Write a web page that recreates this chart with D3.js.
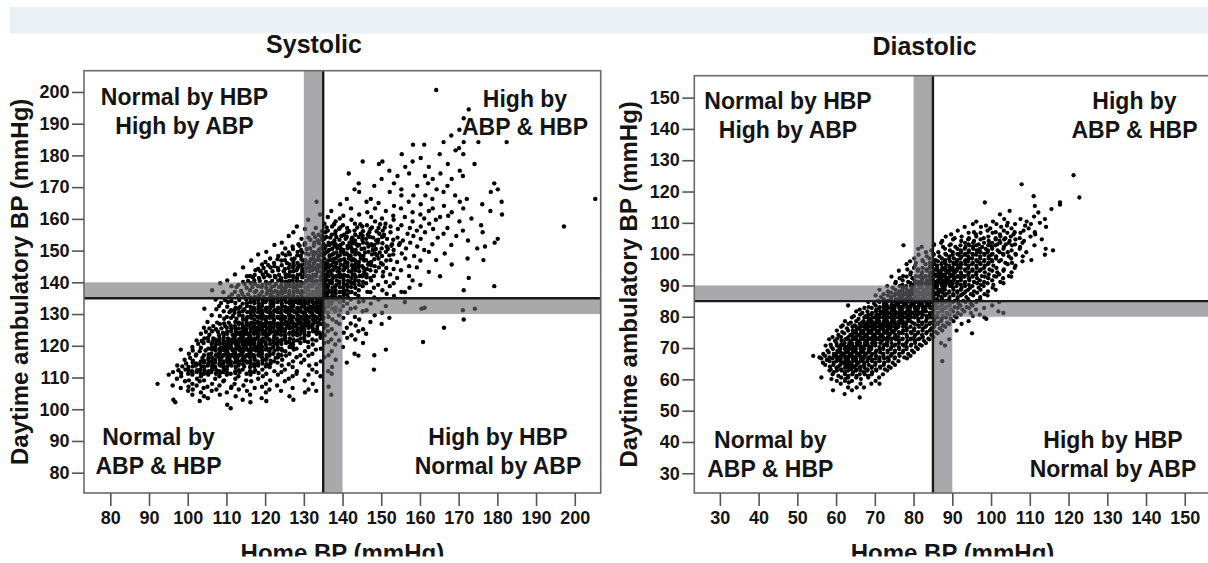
<!DOCTYPE html>
<html><head><meta charset="utf-8">
<script src="https://cdn.jsdelivr.net/npm/d3@7"></script>
<style>
body{margin:0;background:#fff}
svg{display:block}
text{font-family:"Liberation Sans",Arial,Helvetica,sans-serif;font-weight:bold;fill:#141414}
</style>
</head><body><svg id="chart" width="1208" height="563"></svg>
<script>
// ---------------- data ----------------
const panelTitles = ["Systolic", "Diastolic"];
const xAxisTitle = "Home BP (mmHg)";
const yAxisTitle = "Daytime ambulatory BP (mmHg)";
const sysTicks = [80, 90, 100, 110, 120, 130, 140, 150, 160, 170, 180, 190, 200];
const diaTicks = [30, 40, 50, 60, 70, 80, 90, 100, 110, 120, 130, 140, 150];
const sysThreshold = 135, diaThreshold = 85, greyZone = 5;
const quadrantLabels = [["Normal by HBP", "High by ABP"], ["High by", "ABP & HBP"], ["Normal by", "ABP & HBP"], ["High by HBP", "Normal by ABP"]];

// rows: [daytime ABP, home BP values of the subjects with that ABP ...]
const sysRows = [
[200.6,164.2],[194.5,172.6],[191.7,171.3],[188.1,170.2],[186.3,168.1],[184.2,166.1,171.3,175.1,182.4],[183.4,158.2,161.1],
[182.3,170.1],[181.6,169.2],[180.4,155.3,165.1,171.2],[179.2,160.2],[178.1,145.2,150.3,158.1],[177.3,149.4,167.2,174.1],
[176.4,156.2,162.3],[175.2,152.1,170.3],[174.3,141.6,157.2,165.3],[173.5,154.2,161.3,171.1],[172.6,150.1,163.3,168.2],
[171.2,144.2,153.3,162.1,179.2],[170.4,148.2,159.3,167.1],[169.3,143.1,155.2,164.3,180.1],[168.5,144.3,152.2,166.1,178.3],
[167.4,155.2,158.3,161.4,169.1],[166.3,141.1,147.3,163.2,172.1,205.3],[165.4,133.3,146.2,157.1,170.3,181.1],[165.0,149.3],
[164.6,139.4,160.2,176.1],[164.1,153.3,166.2],[163.3,142.2,148.4,155.1,163.3,171.2],[162.5,137.1,151.2,162.3,178.2],
[162.1,146.4,158.1,168.2],[161.4,134.2,144.3,160.1,181.2],[161.0,140.2,153.1,167.3],
[160.6,136.2,147.4,156.1,165.2],[160.1,139.3,150.2,161.1,173.3],
[159.7,131.1,142.3,153.2,164.1],[159.2,138.2,148.4,158.1,170.2],
[158.5,135.3,143.2,151.1,162.4],[158.0,140.1,146.3,155.2,175.8],
[157.6,128.2,137.3,145.1,152.4,160.2,197.2],[157.1,133.1,141.2,149.3,157.4,167.1],
[156.8,130.3,139.1,147.2,154.3,163.4],[156.3,136.2,143.1,150.4,159.2,171.1],
[155.8,127.3,135.6,141.2,146.9,152.4,161.3,176.2],[155.3,132.4,138.1,144.7,149.5,156.8,166.1],
[154.6,126.1,134.4,139.7,145.2,150.6,158.3,169.4],[154.1,131.2,136.8,142.5,147.9,154.2,164.6],
[153.7,129.4,135.3,140.8,146.1,151.5,160.2,180.1],[153.2,133.6,137.9,143.2,148.7,155.6,172.4],
[152.5,124.3,132.7,136.4,141.8,145.3,149.1,157.5,179.3],[152.0,128.6,135.1,138.2,143.6,147.4,152.8,163.2],
[151.8,122.4,130.2,136.6,139.5,144.3,148.2,154.6,168.1],[151.3,127.1,134.8,137.9,142.1,146.7,151.4,159.3,176.8],
[150.7,125.2,131.6,135.4,138.7,141.3,145.6,150.1,156.4,174.8],[150.2,129.3,133.9,136.5,140.2,143.4,147.8,153.2,161.1],
[149.6,120.3,128.4,132.2,136.1,139.6,142.5,146.7,151.2,162.3],[149.1,124.5,130.6,134.3,137.7,141.1,144.2,148.4,155.3,166.4],
[148.8,118.2,126.4,131.3,135.2,137.4,140.5,143.3,147.6,153.1],[148.3,123.4,129.2,133.7,136.6,138.8,142.1,145.4,150.2,158.5],
[147.5,121.3,127.6,132.4,135.3,138.2,141.6,144.7,149.3,156.2,172.3],[147.0,125.1,130.4,134.1,136.8,139.5,143.2,146.1,152.4,164.2,176.4],
[146.9,116.4,124.2,129.7,133.1,136.3,139.2,142.4,145.6,151.3,160.1],[146.4,120.1,127.3,131.5,134.8,137.6,140.7,144.2,147.4,154.1],
[145.6,119.2,126.3,130.1,134.4,136.2,139.5,143.3,146.6,150.4,168.2],[145.1,122.4,128.6,132.3,135.7,138.1,141.2,145.1,148.3,157.2],
[144.7,114.3,121.4,127.2,131.5,134.2,136.4,138.3,141.2,144.1,149.4,159.2],[144.2,118.2,125.1,129.6,133.3,135.6,137.7,140.4,142.6,146.3,153.2],
[143.8,117.5,123.4,128.1,132.2,135.1,137.5,140.2,143.3,147.2,155.1],[143.3,120.2,126.4,130.3,134.5,136.2,139.1,142.3,145.6,150.5,162.3],
[142.5,112.2,119.4,125.3,129.1,133.2,135.4,137.2,139.4,143.1,146.2,152.3],[142.0,116.1,122.5,127.2,131.3,134.6,136.3,138.5,141.2,144.4,148.1,157.2],
[141.9,115.3,121.2,126.3,130.4,133.1,136.2,138.3,141.4,145.1,150.4,165.2],[141.4,118.4,124.1,128.3,132.2,135.4,137.4,140.2,142.3,147.2,154.1,172.6],
[140.6,110.2,117.2,123.4,127.1,131.4,134.3,136.1,138.5,140.3,143.2,147.4,158.1],[140.1,114.3,120.2,125.3,129.2,132.3,135.4,137.3,139.2,142.1,145.3,151.2],
[139.7,108.4,116.3,121.2,126.2,130.1,133.4,135.3,137.2,139.1,142.4,146.1,153.2],[139.2,113.1,119.3,124.2,128.3,131.3,134.2,136.3,138.4,141.2,144.3,149.2,160.1],
[138.8,111.3,118.2,122.3,126.4,129.2,132.1,134.3,136.2,138.1,141.3,145.2,152.2,179.2],[138.3,115.2,120.3,124.4,127.3,130.4,133.3,135.4,137.4,140.2,143.3,148.1,157.3],
[137.5,106.3,116.1,121.4,125.2,128.3,131.2,134.1,136.3,138.2,141.2,144.2,150.3,171.3],[137.0,112.2,119.2,123.3,127.4,130.2,132.4,135.3,137.1,139.4,142.3,146.4,155.2],
[136.9,109.2,117.3,122.2,125.1,128.4,130.2,133.3,135.2,137.4,139.3,142.1,147.2,156.1],[136.4,114.1,120.4,124.3,126.2,129.3,132.1,134.4,136.1,138.2,140.4,143.3,151.4],
[135.7,113.1,118.3,123.2,126.1,129.4,131.2,133.1,135.4,137.3,140.2,144.1,153.3],[135.2,116.2,121.3,124.4,127.2,130.3,132.4,134.2,136.3,138.1,141.4,148.2],
[134.6,107.2,115.1,119.3,122.2,125.1,128.3,130.2,132.1,134.3,136.2,138.4,142.1,149.3],[134.1,111.3,117.2,121.4,123.3,126.4,129.2,131.3,133.4,135.1,137.3,140.2,145.4],
[133.8,110.4,116.2,120.1,123.2,125.4,128.1,130.3,132.2,134.1,136.4,139.3,144.2,156.1],[133.3,114.2,118.3,121.4,124.3,127.2,129.4,131.1,133.3,135.2,137.1,141.2,147.3],
[132.5,108.1,115.3,119.2,122.1,124.4,127.3,130.1,132.4,134.2,136.3,140.1,151.2],[132.0,112.4,117.1,120.3,123.4,126.2,128.4,131.2,133.1,135.4,138.2,143.3,161.2],
[131.7,104.3,113.1,118.4,121.3,123.2,126.1,128.3,130.4,132.2,134.1,137.3,142.1,160.4,174.2],[131.2,111.2,116.3,119.1,122.4,125.3,127.2,129.1,131.3,133.4,135.2,139.4,146.2,171.1],
[130.9,109.3,114.2,117.1,120.3,122.4,125.2,127.3,129.1,131.4,133.2,135.3,138.1,145.2],[130.4,112.1,116.3,119.2,121.4,124.1,126.3,128.2,130.3,132.1,134.4,136.2,141.3,150.2],
[129.6,106.2,113.3,117.2,119.4,122.1,124.3,126.2,128.4,130.1,132.3,134.2,139.1,148.3],[129.1,110.1,115.4,118.1,120.3,123.2,125.1,127.3,129.2,131.4,133.1,136.4,143.2],
[128.8,111.2,116.4,118.3,121.1,123.4,125.2,127.1,129.3,131.2,133.4,135.1,140.2,152.1],[128.3,114.3,117.2,120.1,122.3,124.1,126.4,128.2,130.1,132.3,134.2,137.4,144.3,171.3],
[127.5,105.1,112.3,115.2,118.1,120.3,122.2,125.4,127.1,129.2,131.3,133.1,138.4,147.2],[127.0,109.4,114.1,117.3,119.2,121.4,123.3,126.1,128.3,130.2,132.4,135.2,142.1],
[126.9,108.3,113.2,116.1,118.4,120.2,122.3,125.1,127.4,129.2,131.1,134.3,139.2,150.1],[126.4,111.1,115.3,117.2,119.1,121.3,124.2,126.3,128.1,130.4,132.2,136.1,143.4],
[125.7,104.2,110.1,114.3,116.2,118.1,120.4,122.2,124.3,127.1,129.4,131.2,135.3,141.1,166.2],[125.2,107.3,112.4,115.1,117.3,119.2,121.1,123.4,125.2,128.3,130.1,133.4,137.2,145.3],
[124.6,106.3,111.2,114.1,116.3,118.2,120.1,122.4,124.2,127.3,130.1,132.4,136.2,144.1],[124.1,109.1,113.4,115.2,117.1,119.3,121.2,123.1,126.4,128.2,131.3,134.1,140.3],
[123.8,103.4,110.2,113.1,115.3,117.2,119.4,121.1,123.3,126.2,129.1,133.3,138.2,146.1],[123.3,108.1,112.3,114.4,116.1,118.3,120.2,122.4,125.1,128.3,131.2,135.4,142.3],
[122.5,105.2,109.3,112.1,114.2,116.3,118.1,120.4,122.3,125.2,130.1,134.3,141.2],[122.0,107.1,111.4,113.2,115.1,117.4,119.2,121.1,124.4,127.3,132.2,137.1,143.3],
[121.7,102.3,108.2,111.1,113.4,115.2,117.1,119.3,121.2,124.1,128.4,133.2,139.1],[121.2,106.4,110.3,112.2,114.1,116.3,118.4,120.1,123.3,126.2,131.1,136.3,160.8],
[120.9,104.1,109.2,111.3,113.1,115.4,117.2,119.1,122.3,125.4,129.1,135.2,145.3],[120.4,107.3,110.1,112.4,114.2,116.1,118.3,120.2,123.1,127.2,132.3,138.1],
[119.6,101.2,107.1,109.4,111.2,113.3,115.1,117.4,119.2,122.1,126.3,131.2,140.1],[119.1,105.3,108.2,110.1,112.3,114.2,116.4,118.1,121.3,124.2,128.1,134.4],
[118.8,98.2,106.3,109.1,111.4,113.2,115.3,117.1,120.2,123.3,127.4,133.1,151.2],[118.3,103.1,108.4,110.2,112.1,114.3,116.2,118.4,121.1,125.2,130.3,137.2],
[117.5,100.3,106.1,108.2,110.4,112.3,114.1,116.3,119.2,122.1,126.3,132.2,143.1],[117.0,104.2,107.3,109.1,111.2,113.4,115.2,117.1,120.4,124.2,129.1,136.4,148.2],
[116.9,102.1,107.3,109.2,111.4,113.1,115.2,118.3,121.1,125.4,131.2,144.1],[116.4,105.4,108.1,110.3,112.2,114.4,116.1,119.2,123.3,128.1,135.3],
[115.6,99.2,105.3,107.1,110.2,112.4,114.1,117.3,120.2,124.4,130.1,138.2],[115.1,103.4,106.2,109.3,111.1,113.3,115.2,118.1,122.3,127.2,134.4],
[114.7,101.3,104.2,107.1,110.3,112.2,115.4,118.1,123.2,129.3,141.1],[114.2,103.1,106.4,108.2,111.1,114.3,117.2,120.4,126.1,133.2],
[113.8,97.3,102.1,105.2,108.4,111.3,113.1,118.2,124.3,131.4],[113.3,100.2,104.3,107.1,109.2,112.4,116.1,121.2,127.1,137.3],
[112.5,99.4,103.2,106.3,110.1,114.2,119.3,125.1,132.2,148.1],[112.0,101.1,105.4,108.2,112.3,116.1,122.4,128.2,136.3],
[111.7,96.2,102.3,106.1,109.2,113.4,117.1,124.2,133.3],[111.2,100.1,104.2,107.3,111.1,115.2,120.3,128.1,137.2],
[110.9,95.1,101.2,105.3,110.1,116.2,123.3,131.2],[110.4,98.3,103.4,108.2,113.1,119.4,127.1,134.3],
[109.6,97.2,102.4,107.1,112.3,118.2,126.1],[109.1,100.3,104.2,109.4,115.1,121.3,130.2],
[108.8,99.3,103.1,109.2,116.4,125.1],[108.0,92.2,101.2,106.3,112.1,120.2,132.3],
[107.5,96.1,102.3,108.2,114.4,123.1],[107.1,100.2,105.1,111.3,119.2,136.4],
[106.7,98.2,104.1,111.2,117.3,127.1],[106.2,101.3,107.4,113.2,121.1,131.2],
[105.8,100.1,106.2,115.3,124.1,133.2],[105.3,103.4,110.1,120.2,130.3],
[104.6,101.2,108.3,116.1,137.1],[104.1,104.2,112.4,126.3],
[103.5,105.2,119.1],[103.0,96.3,114.2,127.3],[102.6,103.1,120.3],[102.2,96.8,116.2],[101.4,110.2],[100.3,111.1],
// denser core of the cloud
[158.3,137.8,144.6,149.7],[157.3,135.9,139.4,143.8,147.6,150.9],[156.1,134.7,138.2,141.7,145.3,148.8],
[155.0,133.8,137.2,140.4,143.3,146.5,150.7],[154.3,132.9,135.8,138.4,141.1,144.2,147.1,150.2],
[153.4,131.7,134.6,139.2,142.3,145.1,149.2,153.1],[152.3,130.3,133.9,137.3,140.1,142.7,146.3,150.3,154.8],
[151.5,128.9,132.6,135.7,138.8,141.3,143.9,147.8,152.6],[150.5,127.2,130.8,134.2,137.3,139.6,142.4,144.9,148.6,151.7],
[149.4,126.1,129.6,133.1,135.6,138.4,140.3,143.4,145.8,149.6],[148.5,125.3,128.3,132.5,134.6,136.9,139.3,141.6,144.6,148.9,152.1],
[147.3,123.2,126.9,129.4,131.8,133.7,137.6,140.4,142.8,145.4,148.2],[146.1,122.3,125.6,128.4,130.8,132.6,135.5,138.4,141.3,143.5,146.8,149.9],
[145.4,120.8,124.3,127.4,129.3,131.4,133.6,137.1,140.3,142.4,144.2,147.4],[144.5,119.6,123.3,126.1,128.4,130.6,132.8,135.1,139.2,143.2,145.4,151.3],
[143.5,118.8,121.9,124.8,127.3,129.6,131.4,133.6,136.8,138.7,141.6,144.3,148.6],[142.3,117.3,120.7,123.6,126.1,128.4,130.2,132.4,136.1,140.4,142.6,145.3],
[141.6,116.8,119.7,122.6,125.3,127.4,129.6,131.3,134.3,137.6,139.4,143.4,146.2],[140.4,115.6,118.6,121.8,124.3,126.2,128.2,130.6,133.2,136.7,141.4,144.2],
[139.5,114.7,117.4,120.4,122.8,125.4,127.3,129.4,132.4,134.6,140.3,143.1],[138.5,112.6,116.7,119.1,121.6,123.6,125.4,128.1,131.2,135.7,139.3,142.2],
[137.3,113.8,117.7,120.6,122.7,124.3,126.3,129.4,133.3,136.6,140.3],[136.2,111.4,115.6,118.7,121.4,123.3,127.3,131.1,134.2,141.2],
[135.4,110.7,114.6,117.3,119.6,122.1,125.3,128.3,131.1,133.7,139.2],[134.4,109.6,113.3,116.3,118.2,120.4,124.3,127.3,129.1,131.6,133.3],
[133.5,108.6,112.3,115.3,117.2,119.3,122.2,126.3,128.6,130.7,132.6,134.4],[132.3,110.2,113.6,116.2,118.3,121.3,125.2,126.8,129.4,131.7,133.6],
[131.5,107.4,112.2,114.6,117.3,120.1,124.2,126.6,128.8,130.6,132.7,134.6],[130.6,110.8,113.3,115.4,118.2,120.9,123.3,125.7,127.7,129.6,131.7,133.6],
[129.4,108.3,111.7,114.2,116.3,118.8,121.3,124.2,126.7,128.6,130.7,132.6,134.7],[128.5,109.4,112.6,115.2,119.2,122.1,124.7,126.3,128.6,130.6,132.8],
[127.3,107.6,110.6,113.2,116.4,118.6,121.2,124.3,126.7,128.7,130.6,133.7],[126.2,106.6,109.7,112.2,114.3,117.1,119.7,123.2,125.6,127.6,129.6,131.7,133.5],
[125.5,105.6,108.7,111.3,113.2,116.3,118.7,121.3,123.6,126.3,128.8,132.3],[124.4,104.7,107.8,110.2,112.4,114.7,117.6,119.4,121.6,125.1,129.3,133.2],
[123.5,105.6,109.3,111.6,113.7,115.8,118.2,120.7,124.1,127.2,130.2,134.3],[122.3,104.3,106.6,108.2,110.4,113.6,115.7,117.3,119.4,123.1,126.4,129.2],
[121.5,103.6,105.3,107.4,109.3,112.6,114.6,116.2,118.6,122.2,125.3,127.4,130.2],[120.6,102.7,106.2,108.3,110.7,112.6,114.7,116.7,118.7,121.3,124.2,126.6],
[119.4,103.4,106.2,108.7,110.6,112.7,114.6,116.3,118.4,120.3,123.3,127.2],[118.5,101.3,104.6,107.2,109.6,111.7,113.6,115.8,117.6,119.2,122.4,124.4],
[117.3,102.2,105.4,107.7,109.7,111.7,113.6,115.7,118.3,121.2,123.4],[116.2,100.6,103.8,106.3,108.7,110.8,112.8,114.7,117.2,120.4,122.7],
[115.3,101.3,104.2,108.3,110.8,112.7,114.3,116.2,119.3,121.4],[114.4,99.6,102.2,105.3,109.2,113.2,116.3,119.3,121.4],
[113.5,98.6,101.3,103.6,106.3,110.2,114.6,117.2,120.2],[112.3,97.6,100.2,102.4,104.3,107.4,109.3,113.2,117.4],
[111.4,98.3,101.2,103.3,105.2,108.3,110.2,112.3,118.3]
];

const diaRows = [
[125.2,121.3],[122.3,107.9],[118.5,111.0],[118.1,122.8],[116.5,98.4,117.8],[115.8,117.8],[115.4,111.3],[114.4,115.6],
[113.8,104.8],[113.3,112.2],[112.7,102.3],[112.0,111.1],[111.2,103.4,107.6,113.9],[110.4,96.2,100.5,109.2],[110.0,104.3,112.6],
[109.6,95.3,101.4,106.2,110.3],[109.1,98.7,104.1,108.8],
[108.7,93.2,97.4,102.6,114.2],[108.2,99.8,105.3,109.7],
[107.5,91.4,99.1,103.3,108.4],[107.0,95.6,101.2,106.1,111.3],
[106.8,94.2,97.3,100.4,104.2,107.6],[106.3,89.7,96.1,102.3,105.8,111.4],
[105.6,88.3,92.4,96.2,99.3,102.4,105.1,110.2],[105.1,90.6,94.3,98.1,101.2,103.7,107.4],
[104.7,90.2,94.1,97.3,101.2,103.4,106.3,113.1],[104.2,87.4,92.3,95.6,99.4,102.2,104.8,108.5],
[103.6,87.1,93.3,95.4,98.2,100.3,102.4,104.6,108.1],[103.1,85.3,89.6,94.2,96.8,99.5,101.6,103.8,106.2],
[102.8,77.4,85.2,89.3,92.1,94.4,96.2,99.3,101.1,105.4,111.2],[102.3,82.1,87.6,90.8,93.4,95.3,97.7,100.2,103.3,107.5],
[101.7,81.2,88.1,91.3,93.2,95.4,97.1,98.6,100.3,103.2,107.4,114.1],[101.2,84.6,89.4,92.2,94.3,96.3,99.2,101.7,105.3,116.0],
[100.6,83.2,86.4,90.1,92.3,94.2,96.4,97.3,99.1,102.2,104.3,109.1],[100.1,85.1,88.2,91.3,93.4,95.2,98.3,100.4,103.1,106.3],
[99.8,81.3,85.2,88.4,90.1,91.6,93.3,95.4,96.2,98.3,100.1,103.2,106.4,113.9],[99.3,83.4,86.7,89.3,92.4,94.1,97.2,99.4,101.3,104.6,108.2],
[98.6,80.2,84.1,87.3,89.2,90.4,92.1,94.3,95.1,97.2,99.4,101.3,105.2],[98.1,82.3,85.7,88.2,91.3,93.4,96.2,98.3,100.2,102.6,110.4],
[97.7,79.1,82.4,85.2,86.3,88.1,89.4,91.2,93.3,94.1,96.4,98.2,100.3,102.1,108.1],[97.2,80.6,84.2,87.4,90.3,92.2,95.3,97.1,99.4,103.7,105.4],
[96.8,78.2,83.1,85.4,87.2,88.3,90.4,91.1,92.3,93.4,95.1,97.3,99.2,104.3],[96.3,80.4,84.3,86.1,89.2,91.6,94.2,96.2,98.4,100.6,106.3],
[95.6,80.1,82.3,84.2,86.1,87.4,88.2,89.3,90.1,91.4,92.2,94.1,96.3,98.2,101.4,106.1],[95.1,78.4,81.2,83.3,85.4,87.9,89.7,91.2,93.3,95.2,97.4,99.6,103.3],
[94.7,76.2,81.1,83.4,85.2,86.3,87.1,88.4,89.2,90.3,91.1,93.4,95.2,97.1,100.3,103.2],[94.2,79.3,82.2,84.3,86.8,88.9,90.7,92.2,94.3,96.2,98.4,101.6,105.3],
[93.5,79.2,82.1,84.3,85.4,86.2,87.3,88.1,89.4,90.2,92.3,94.1,96.2,99.4,102.1],[93.0,77.3,80.6,83.2,85.9,87.8,89.9,91.3,93.2,95.3,97.6,100.8,104.6],
[92.8,74.3,78.2,81.4,83.1,84.2,85.3,86.4,87.2,88.1,89.3,90.2,91.4,93.1,95.2,98.4,101.3,105.2],[92.3,76.4,79.7,82.3,84.8,86.9,88.7,90.6,92.2,94.3,96.4,99.3,103.1],
[91.6,77.2,80.3,82.1,83.4,84.2,85.1,86.3,87.4,88.2,89.1,90.3,92.2,94.4,97.1,100.3],[91.1,75.4,78.6,81.2,83.7,85.8,87.9,89.6,91.3,93.3,95.6,98.2,102.4],
[90.7,75.3,79.2,80.4,81.3,82.2,83.1,84.4,85.2,86.3,87.1,88.4,89.2,90.1,91.3,93.2,96.4,99.1,103.2],[90.2,77.1,79.8,81.9,83.7,85.6,87.7,89.8,92.2,94.3,97.4,100.6],
[89.8,73.2,76.4,78.1,79.3,80.2,81.4,82.1,83.3,84.2,85.4,86.1,87.3,88.2,89.4,91.1,93.3,95.2,98.1],[89.3,74.6,77.3,79.8,81.8,83.7,85.9,87.8,90.2,92.4,94.6,96.8,100.4],
[88.6,71.2,75.3,77.1,78.2,79.4,80.3,81.1,82.4,83.2,84.3,85.1,86.4,87.2,88.1,90.3,92.2,94.1,97.3,101.2],[88.1,73.4,76.3,78.8,80.8,82.7,84.8,86.8,89.2,91.3,93.4,95.6,99.2],
[87.7,74.2,76.1,77.3,78.4,79.2,80.1,81.3,82.2,83.4,84.1,85.3,86.2,87.4,89.1,91.3,93.2,96.4],[87.2,72.3,75.2,77.8,79.7,81.8,83.8,85.7,88.3,90.2,92.6,94.8,98.3],
[86.8,70.2,73.4,75.1,76.3,77.2,78.4,79.1,80.3,81.2,82.4,83.1,84.3,85.2,86.4,88.1,90.3,92.2,95.4,99.1],[86.3,71.6,74.3,76.8,78.7,80.8,82.8,84.8,87.2,89.3,91.4,93.6,97.2],
[85.6,72.3,74.1,75.4,76.2,77.3,78.1,79.4,80.2,81.3,82.1,83.4,84.2,85.3,86.1,87.4,89.2,91.3,94.1,97.2],[85.1,70.8,73.3,76.7,78.8,80.7,82.7,84.7,86.8,88.4,90.6,92.8,96.3],
[84.7,68.3,71.2,73.1,74.3,75.2,76.4,77.1,78.3,79.2,80.4,81.1,82.3,83.2,84.4,85.1,86.3,88.2,90.1,93.4,96.2,102.1],[84.2,69.8,72.4,75.7,77.8,79.7,81.6,83.8,85.7,87.4,89.3,91.6,94.8],
[83.6,63.1,70.2,72.4,73.1,74.3,75.2,76.1,77.4,78.2,79.3,80.1,81.4,82.2,83.3,84.1,85.4,87.2,89.3,92.1,95.2,100.3],[83.1,68.4,71.3,74.8,76.6,78.7,80.8,82.7,84.6,86.2,88.4,90.6,93.7],
[82.8,67.3,69.2,71.1,72.3,73.4,74.2,75.1,76.3,77.2,78.4,79.1,80.3,81.2,82.4,83.1,84.3,86.2,88.1,91.4,94.3,98.2],[82.3,66.1,70.4,72.8,74.7,76.8,78.7,80.6,82.8,85.2,87.3,89.6,92.6,96.1],
[81.7,65.2,68.1,70.3,71.4,72.2,73.1,74.3,75.2,76.4,77.1,78.3,79.2,80.4,81.1,82.3,83.2,85.1,87.4,90.2,93.1,101.9],[81.2,66.8,69.3,71.8,73.7,75.7,77.8,79.7,81.8,84.2,86.3,88.6,91.4,94.8,103.2],
[80.7,66.2,68.3,69.1,70.4,71.2,72.3,73.1,74.4,75.2,76.3,77.1,78.4,79.2,80.3,81.1,82.4,84.2,86.1,89.3,92.2,97.1],[80.2,64.6,67.7,70.8,72.8,74.7,76.8,78.8,80.7,83.3,85.2,87.6,90.6,95.3],
[79.8,64.1,67.3,68.2,69.4,70.1,71.3,72.2,73.4,74.1,75.3,76.2,77.4,78.1,79.3,80.2,82.1,84.3,86.2,88.4,91.1,98.3],[79.3,65.8,68.7,70.7,72.8,74.6,76.8,78.7,81.2,83.4,85.3,87.3,89.6,98.8],
[78.6,62.3,65.2,67.1,68.3,69.2,70.4,71.1,72.3,73.2,74.4,75.1,76.3,77.2,78.4,79.1,81.3,83.2,85.4,87.1,90.3,94.2],[78.1,63.8,66.6,68.8,70.8,72.7,74.8,76.8,79.7,82.3,84.3,86.4,88.7],
[77.7,63.2,66.1,67.3,68.2,69.4,70.1,71.3,72.2,73.4,74.1,75.3,76.2,77.4,78.1,80.3,82.2,84.1,86.3,89.2,92.4],[77.2,61.7,64.8,67.7,69.8,71.7,73.8,75.8,77.9,81.2,83.3,85.4,87.6],
[76.8,61.3,64.2,65.1,66.3,67.2,68.4,69.1,70.3,71.2,72.4,73.1,74.3,75.2,76.1,77.3,79.2,81.4,83.1,85.3,88.2],[76.3,62.8,65.7,67.8,69.7,71.8,73.7,75.6,78.3,80.2,82.4,84.6,86.8],
[75.6,60.2,63.1,64.3,65.2,66.4,67.1,68.3,69.2,70.4,71.1,72.3,73.2,74.4,75.1,77.3,78.2,80.1,82.3,84.2,87.4,91.1],[75.1,61.6,64.7,66.8,68.7,70.8,72.7,74.8,76.2,79.3,81.2,83.4,85.7],
[74.7,62.1,64.3,65.2,66.4,67.1,68.3,69.2,70.4,71.1,72.3,73.2,74.1,76.3,77.2,79.4,81.1,83.3,86.2,95.1],[74.2,60.6,63.7,65.8,67.7,69.8,71.7,73.8,75.3,78.2,80.4,82.2,84.6],
[73.5,59.1,61.3,63.2,64.4,65.1,66.3,67.2,68.1,69.4,70.2,71.3,72.1,73.4,75.2,76.1,78.3,80.2,82.4,85.1],[73.0,60.3,62.7,64.8,66.7,68.8,70.8,72.6,74.4,77.2,79.3,81.6,83.8],
[72.8,58.2,62.4,63.1,64.3,65.2,66.4,67.1,68.3,69.2,70.4,71.1,72.3,74.2,75.4,77.1,79.3,81.2,84.1,89.2],[72.3,59.7,61.4,63.8,65.7,67.8,69.7,71.8,73.3,76.2,78.4,80.3,82.7],
[71.6,60.1,62.2,63.4,64.1,65.3,66.2,67.4,68.1,69.3,70.2,71.4,73.1,74.3,76.2,78.1,80.4,83.2,87.1],[71.1,58.6,61.3,63.7,65.8,67.7,69.8,72.4,75.3,77.2,79.4,81.6],
[70.8,57.3,60.2,61.4,62.1,63.3,64.2,65.4,66.1,67.3,68.2,69.4,70.1,72.3,73.2,75.1,77.4,79.3,82.1,88.1],[70.3,58.8,60.8,62.7,64.8,66.7,68.8,71.2,74.3,76.2,78.2,80.6],
[69.7,59.2,61.1,62.3,63.4,64.2,65.1,66.3,67.2,68.4,69.1,71.3,72.2,74.1,76.3,78.2,81.1],[69.2,57.8,60.4,62.8,64.7,66.8,68.7,70.4,73.3,75.2,77.4,79.6],
[68.6,58.1,60.3,61.2,62.4,63.1,64.3,65.2,66.4,67.1,68.3,70.2,71.4,73.3,75.1,77.2,80.1],[68.1,56.7,59.4,61.8,63.7,65.7,67.7,69.3,72.2,74.4,76.3,78.6],
[67.5,54.1,57.2,59.4,60.1,61.3,62.2,63.4,64.1,65.3,66.2,67.4,69.1,70.3,72.2,74.1,76.4,79.2],[67.0,55.7,58.3,60.8,62.7,64.7,66.8,68.4,71.2,73.3,75.2,77.6],
[66.7,56.2,59.1,60.3,61.2,62.4,63.1,64.3,65.2,66.4,67.1,68.3,70.2,72.4,75.1,78.3],[66.2,57.6,60.8,62.7,64.7,66.8,69.3,71.2,73.6],
[65.8,58.3,60.1,61.2,62.4,63.1,64.3,65.2,66.4,68.1,69.3,71.2,73.4,76.1,87.4],[65.3,56.6,59.4,61.8,63.7,65.8,67.3,70.2,72.4,74.6],
[64.6,57.2,59.3,61.1,62.4,63.2,64.1,65.3,67.2,68.4,70.1,72.3,75.2],[64.1,58.4,60.6,62.8,64.7,66.3,69.2,71.4,73.6],
[63.7,60.1,62.3,63.4,64.2,66.1,67.3,69.2,71.4,74.1],[63.2,58.6,61.3,63.8,65.2,68.1,70.3,72.6],
[62.8,58.3,60.2,61.4,63.1,65.2,66.3,68.1,70.4,73.2],[62.3,59.4,62.3,64.4,67.2,69.3],
[61.6,59.1,62.3,64.2,66.1,67.4,69.2,72.1],[61.1,60.6,63.2,65.3,68.3],
[60.6,56.2,61.3,63.1,65.2,68.3,71.1],[60.1,58.8,62.4,66.4],
[59.5,60.2,62.3,64.1,70.2],[59.0,63.3],[58.6,61.2,66.3,69.1,71.2],[57.4,63.1,65.3,67.2],[56.5,59.2,64.1],[55.3,62.2],[54.2,66.1]
];

// ---------------- drawing ----------------
const svg = d3.select("#chart");
svg.append("rect").attr("x", 10).attr("y", 7).attr("width", 1198).attr("height", 26.5).attr("fill", "#ecf1f8");

const panels = [
  { rows: sysRows, ticks: sysTicks, thr: sysThreshold, title: panelTitles[0],
    box: {l: 84, r: 600.7, t: 70.7, b: 493}, xd: [73.2, 206.7], yd: [73.6, 206.7],
    titleX: 314, titleY: 53, yTitleX: 28, dot: 2.2,
    lab: [[184.5, 105, 133.5], [525, 106.5, 134.5], [158.5, 445, 473.5], [498, 445, 473.5]] },
  { rows: diaRows, ticks: diaTicks, thr: diaThreshold, title: panelTitles[1],
    box: {l: 694.3, r: 1210.7, t: 75.7, b: 493}, xd: [23.4, 156.7], yd: [23.7, 157.0],
    titleX: 924.5, titleY: 54.5, yTitleX: 637, dot: 2.15,
    lab: [[788, 109.4, 138], [1134.5, 109, 138], [770.3, 448.4, 477], [1113, 448, 477]] }
];

panels.forEach((p, i) => {
  const x = d3.scaleLinear().domain(p.xd).range([p.box.l, p.box.r]);
  const y = d3.scaleLinear().domain(p.yd).range([p.box.b, p.box.t]);
  const g = svg.append("g");
  const clipId = "clip" + i;
  g.append("clipPath").attr("id", clipId).append("rect")
    .attr("x", p.box.l).attr("y", p.box.t).attr("width", p.box.r - p.box.l).attr("height", p.box.b - p.box.t);
  const plot = g.append("g").attr("clip-path", `url(#${clipId})`);

  const pts = p.rows.flatMap(r => r.slice(1).map(h => [h, r[0]]));
  plot.append("g").selectAll("circle").data(pts).join("circle")
    .attr("cx", d => x(d[0])).attr("cy", d => y(d[1])).attr("r", p.dot).attr("fill", "#000");

  const t = p.thr, w = greyZone;
  const [x0, x1] = p.xd, [y0, y1] = p.yd;
  const bands = [[t - w, t, t, y1], [x0, t, t, t + w], [t, t + w, y0, t], [t, x1, t - w, t]];
  plot.append("g").selectAll("rect").data(bands).join("rect")
    .attr("x", d => x(d[0])).attr("width", d => x(d[1]) - x(d[0]))
    .attr("y", d => y(d[3])).attr("height", d => y(d[2]) - y(d[3]))
    .attr("fill", "rgb(108,108,113)").attr("fill-opacity", 0.59);

  plot.append("line").attr("x1", x(t)).attr("x2", x(t)).attr("y1", p.box.t).attr("y2", p.box.b)
    .attr("stroke", "#1a1a1a").attr("stroke-width", 2.4);
  plot.append("line").attr("x1", p.box.l).attr("x2", p.box.r).attr("y1", y(t)).attr("y2", y(t))
    .attr("stroke", "#1a1a1a").attr("stroke-width", 2.4);

  g.append("rect").attr("x", p.box.l).attr("y", p.box.t).attr("width", p.box.r - p.box.l).attr("height", p.box.b - p.box.t)
    .attr("fill", "none").attr("stroke", "#6a6a6a").attr("stroke-width", 1.6);

  const ya = g.append("g").attr("transform", `translate(${p.box.l},0)`)
    .call(d3.axisLeft(y).tickValues(p.ticks).tickSize(12).tickPadding(2.5).tickFormat(d3.format("d")));
  const xa = g.append("g").attr("transform", `translate(0,${p.box.b})`)
    .call(d3.axisBottom(x).tickValues(p.ticks).tickSize(13).tickPadding(5).tickFormat(d3.format("d")));
  [ya, xa].forEach(a => {
    a.select(".domain").remove();
    a.selectAll(".tick line").attr("stroke", "#555").attr("stroke-width", 1.6);
    a.selectAll(".tick text").attr("font-size", 18).attr("fill", "#141414")
      .style("font-family", '"Liberation Sans",Arial,sans-serif').style("font-weight", "bold");
  });

  g.append("text").attr("x", p.titleX).attr("y", p.titleY).attr("text-anchor", "middle")
    .attr("font-size", 25).text(p.title);
  g.append("text").attr("transform", `translate(${p.yTitleX},${(p.box.t + p.box.b) / 2}) rotate(-90)`)
    .attr("text-anchor", "middle").attr("font-size", 24).text(yAxisTitle);
  g.append("text").attr("x", (p.box.l + p.box.r) / 2).attr("y", 560.5).attr("text-anchor", "middle")
    .attr("font-size", 24).text(xAxisTitle);

  quadrantLabels.forEach((lines, k) => {
    const [cx, b1, b2] = p.lab[k];
    const tx = g.append("text").attr("text-anchor", "middle").attr("font-size", 23);
    tx.append("tspan").attr("x", cx).attr("y", b1).text(lines[0]);
    tx.append("tspan").attr("x", cx).attr("y", b2).text(lines[1]);
  });
});

// the reference image is cropped just below the x-axis titles
svg.append("rect").attr("x", 0).attr("y", 556.5).attr("width", 1208).attr("height", 7).attr("fill", "#fff");
</script>
</body></html>
